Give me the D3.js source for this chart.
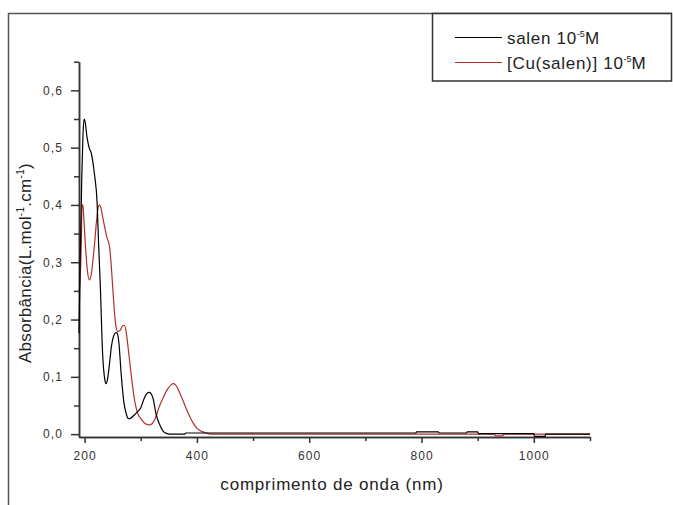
<!DOCTYPE html>
<html>
<head>
<meta charset="utf-8">
<script src="https://cdn.jsdelivr.net/npm/d3@7"></script>
<style>
  html, body { margin: 0; padding: 0; background: #fff; }
  svg { display: block; font-family: "Liberation Sans", Arial, sans-serif; }
</style>
</head>
<body>
<svg id="chart" width="673" height="505"></svg>
<script>
// ---- data ----
const seriesNames = ["salen", "[Cu(salen)]"];
const salenNm = [190,192,195,197,199,201,204,208,212,215,218,222,225,228,232,236,238,240,244,248,252,256,258,261,265,270,274,278,282,288,294,300,306,311,315,318,322,327,333,340,347,354,365,378,380,450,600,700,790,791,830,831,880,881,900,901,1000,1001,1020,1021,1060,1100];
const salenAbs = [0.176,0.30,0.45,0.52,0.55,0.545,0.52,0.50,0.49,0.473,0.45,0.408,0.33,0.257,0.141,0.095,0.088,0.092,0.12,0.155,0.172,0.177,0.176,0.16,0.106,0.055,0.036,0.027,0.028,0.033,0.039,0.046,0.062,0.071,0.073,0.071,0.062,0.036,0.018,0.005,0.001,0.0,0.0,0.0,0.002,0.002,0.002,0.002,0.002,0.004,0.004,0.002,0.002,0.004,0.004,0.001,0.001,-0.004,-0.004,0.0,0.0,0.0];
const cuNm = [190,192,194,195.5,197,199,202,205,208.6,212,215,218,221,224,226.4,229,232,236,240,244,247,250,253,256,259,263,267,271,274,277,280,284,288,292,296,300,306,311,315,320,326,333,340,348,354,358,362,368,375,382,388,393,400,406,411,420,430,600,930,931,945,946,1100];
const cuAbs = [0.25,0.27,0.33,0.40,0.40,0.37,0.32,0.285,0.269,0.28,0.305,0.335,0.37,0.395,0.40,0.395,0.38,0.36,0.342,0.33,0.30,0.257,0.215,0.187,0.179,0.181,0.188,0.19,0.178,0.155,0.129,0.095,0.065,0.045,0.033,0.027,0.02,0.017,0.016,0.018,0.028,0.048,0.064,0.079,0.086,0.088,0.086,0.075,0.059,0.042,0.029,0.02,0.01,0.006,0.004,0.001,0.0,0.0,0.0,-0.003,-0.003,0.0,0.0];
const yTickValues = [0, 0.1, 0.2, 0.3, 0.4, 0.5, 0.6];
const yTickLabels = ["0,0", "0,1", "0,2", "0,3", "0,4", "0,5", "0,6"];
const yMinorValues = [0.05, 0.15, 0.25, 0.35, 0.45, 0.55, 0.65];
const xTickValues = [200, 400, 600, 800, 1000];
const xTickLabels = ["200", "400", "600", "800", "1000"];
const xMinorValues = [300, 500, 700, 900, 1100];

const svg = d3.select("#chart");
const axisColor = "#333";
const textColor = "#333";
const colors = ["#000000", "#b0302c"];

const x = d3.scaleLinear().domain([190, 1100]).range([79, 590]);
const y = d3.scaleLinear().domain([-0.005, 0.65]).range([437, 61.7]);

// outer frame (cut by the picture edges)
svg.append("path")
  .attr("d", "M8.5,505 L8.5,13.5 L672,13.5")
  .attr("fill", "none").attr("stroke", "#555").attr("stroke-width", 1.5);

// axes
const yAxis = d3.axisLeft(y).tickValues(yTickValues)
  .tickFormat((d, i) => yTickLabels[i]).tickSize(8).tickSizeOuter(0).tickPadding(8);
const yMinor = d3.axisLeft(y).tickValues(yMinorValues).tickFormat("").tickSize(5).tickSizeOuter(0);
const xAxis = d3.axisBottom(x).tickValues(xTickValues)
  .tickFormat((d, i) => xTickLabels[i]).tickSize(6).tickSizeOuter(0).tickPadding(8);
const xMinor = d3.axisBottom(x).tickValues(xMinorValues).tickFormat("").tickSize(4).tickSizeOuter(0);

function styleAxis(g) {
  g.selectAll("path.domain").attr("stroke", axisColor).attr("stroke-width", 1.5);
  g.selectAll(".tick line").attr("stroke", axisColor).attr("stroke-width", 1.5);
  g.selectAll(".tick text").attr("fill", textColor)
    .style("font-size", "12px").style("letter-spacing", "1.1px")
    .style("font-family", "'Liberation Sans', Arial, sans-serif");
}

svg.append("g").attr("transform", "translate(79,0)").call(yMinor).call(styleAxis);
svg.append("g").attr("transform", "translate(79,0)").call(yAxis).call(styleAxis);
svg.append("g").attr("transform", "translate(0,437)").call(xMinor).call(styleAxis);
svg.append("g").attr("transform", "translate(0,437)").call(xAxis).call(styleAxis);

// lines
const line = d3.line().x(d => x(d[0])).y(d => y(d[1])).curve(d3.curveMonotoneX);
const seriesData = [
  d3.zip(salenNm, salenAbs),
  d3.zip(cuNm, cuAbs)
];
// draw red first, then black on top near baseline similar to reference
[1, 0].forEach(i => {
  svg.append("path")
    .datum(seriesData[i])
    .attr("fill", "none")
    .attr("stroke", colors[i])
    .attr("stroke-width", 1.2)
    .attr("stroke-linejoin", "round")
    .attr("d", line);
});

// axis titles
svg.append("text")
  .attr("x", 332).attr("y", 490)
  .attr("text-anchor", "middle")
  .attr("fill", "#222")
  .style("font-size", "17px").style("letter-spacing", "0.8px")
  .text("comprimento de onda (nm)");

const yTitle = svg.append("text")
  .attr("transform", "translate(31,263) rotate(-90)")
  .attr("text-anchor", "middle")
  .attr("fill", "#222")
  .style("font-size", "17px").style("letter-spacing", "0.3px");
yTitle.append("tspan").text("Absorbância(L.mol");
yTitle.append("tspan").attr("dy", -7).style("font-size", "10px").text("-1");
yTitle.append("tspan").attr("dy", 7).text(".cm");
yTitle.append("tspan").attr("dy", -7).style("font-size", "10px").text("-1");
yTitle.append("tspan").attr("dy", 7).text(")");

// legend
svg.append("rect")
  .attr("x", 432.5).attr("y", 13.5).attr("width", 239).attr("height", 67.5)
  .attr("fill", "#fff").attr("stroke", "#333").attr("stroke-width", 1.5);
const legendY = [37.5, 62.5];
seriesNames.forEach((name, i) => {
  svg.append("line")
    .attr("x1", 455).attr("x2", 502)
    .attr("y1", legendY[i]).attr("y2", legendY[i])
    .attr("stroke", colors[i]).attr("stroke-width", 1.2);
  const t = svg.append("text")
    .attr("x", 507).attr("y", legendY[i] + 6)
    .attr("fill", "#222")
    .style("font-size", "17px").style("letter-spacing", "0.7px");
  t.append("tspan").text(name + " 10");
  t.append("tspan").attr("dy", -7).style("font-size", "9px").style("letter-spacing", "0px").text("-5");
  t.append("tspan").attr("dy", 7).text("M");
});
</script>
</body>
</html>
